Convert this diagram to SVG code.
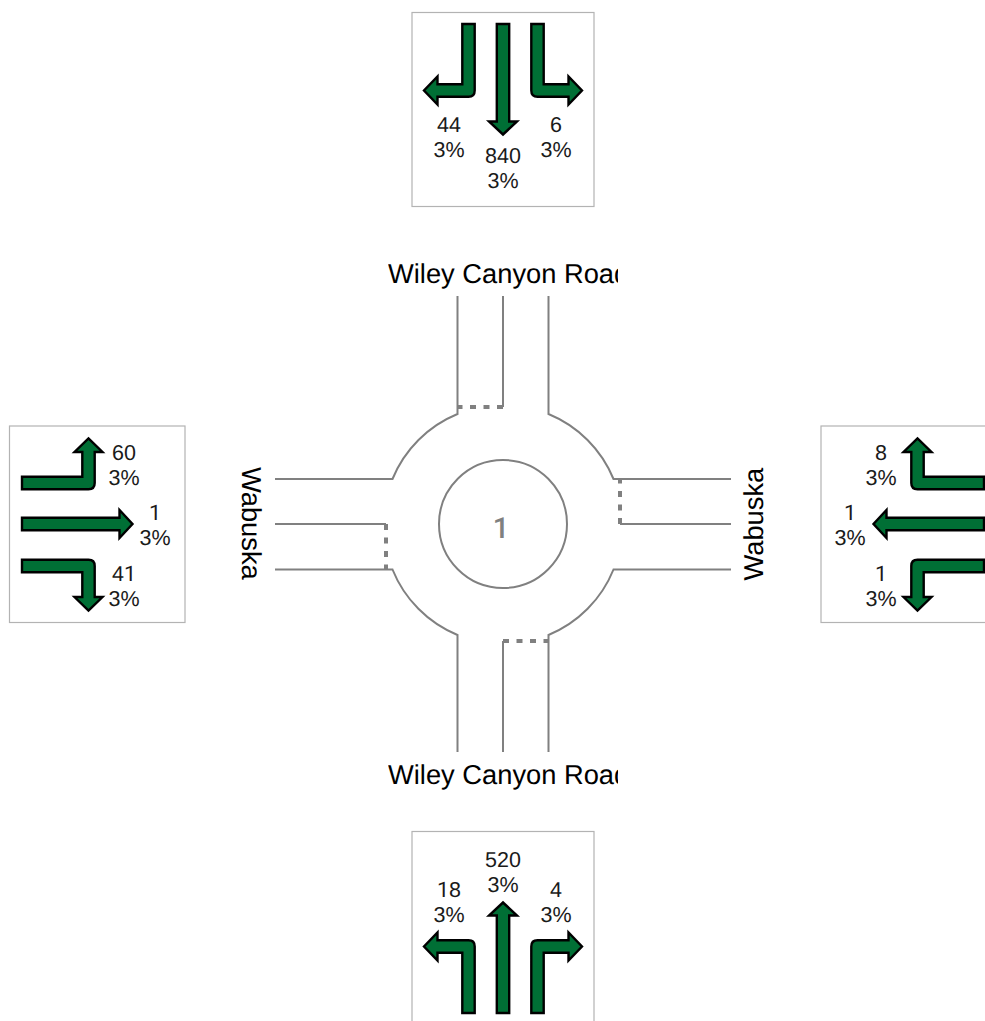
<svg xmlns="http://www.w3.org/2000/svg" width="985" height="1021" viewBox="0 0 985 1021">
<style>
.box{fill:#fff;stroke:#b3b3b3;stroke-width:1.2}
.arrow{fill:#006f35;stroke:#000;stroke-width:2.4;stroke-linejoin:miter;stroke-miterlimit:10}
.road{fill:none;stroke:#808080;stroke-width:2}
.stop{fill:none;stroke:#808080;stroke-width:4;stroke-dasharray:6 7.5}
text{font-family:"Liberation Sans",Arial,sans-serif;fill:#1a1a1a;text-rendering:geometricPrecision}
.n{font-size:21.5px;text-anchor:middle}
.l{font-size:27.3px;fill:#000}
.id{font-family:Roboto,"Liberation Sans",sans-serif;font-size:29px;font-weight:500;fill:#808080;text-anchor:middle}
.o{font-family:Roboto,"Liberation Sans",sans-serif}
</style>
<defs>
<path id="through" class="arrow" d="M-6.2,0H6.2V97.5H14L0,110.5L-14,97.5H-6.2Z"/>
<path id="turn" class="arrow" d="M-6.2,0H6.2V66.5Q6.2,72.7 0,72.7H-31V80.5L-44.5,66.5L-31,52.500V60.3H-6.2Z"/>
<clipPath id="c1"><rect x="388" y="250" width="230" height="50"/></clipPath>
<clipPath id="c2"><rect x="388" y="750" width="230" height="50"/></clipPath>
</defs>
<g id="connectors">
<path class="road" d="M457.5,296V414A119,119 0 0 0 392.5,479H275"/>
<path class="road" d="M503,296V407"/>
<path class="road" d="M548.5,296V414A119,119 0 0 1 613.5,479H731"/>
<path class="road" d="M275,524H386"/>
<path class="road" d="M620,524H731"/>
<path class="road" d="M275,569.5H392.5A119,119 0 0 0 457.5,635V752"/>
<path class="road" d="M731,569.5H613.5A119,119 0 0 1 548.5,635V752"/>
<path class="road" d="M503,641V752"/>
<path class="stop" d="M503,407H457.5"/>
<path class="stop" d="M620,524V479"/>
<path class="stop" d="M386,524V569.5"/>
<path class="stop" d="M503,641H548.5"/>
</g>
<g id="roundabout">
<circle class="road" cx="503" cy="524" r="64"/>
<text class="id" x="501" y="538">1</text>
</g>
<g id="label-north"><text class="l" x="388" y="283" clip-path="url(#c1)">Wiley Canyon Road</text></g>
<g id="label-south"><text class="l" x="388" y="784" clip-path="url(#c2)">Wiley Canyon Road</text></g>
<g id="label-west"><text class="l" transform="translate(241.500,467) rotate(90)">Wabuska</text></g>
<g id="label-east"><text class="l" transform="translate(763,580.500) rotate(-90)">Wabuska</text></g>
<g id="north-box">
<rect class="box" x="412" y="12.5" width="182" height="194"/>
<use href="#turn" transform="translate(468.5,24)"/>
<use href="#through" transform="translate(503,24)"/>
<use href="#turn" transform="translate(537.5,24) scale(-1,1)"/>
<text class="n" x="449" y="131.500">44</text><text class="n" x="449" y="156.500">3%</text>
<text class="n" x="503" y="162.500">840</text><text class="n" x="503" y="187.500">3%</text>
<text class="n" x="556" y="131.500">6</text><text class="n" x="556" y="156.500">3%</text>
</g>
<g id="south-box">
<rect class="box" x="412" y="831.5" width="182" height="194"/>
<use href="#turn" transform="translate(468.5,1013) scale(1,-1)"/>
<use href="#through" transform="translate(503,1013) scale(1,-1)"/>
<use href="#turn" transform="translate(537.5,1013) scale(-1,-1)"/>
<text class="n" x="449" y="896.500"><tspan class="o">1</tspan>8</text><text class="n" x="449" y="921.500">3%</text>
<text class="n" x="503" y="866.500">520</text><text class="n" x="503" y="891.500">3%</text>
<text class="n" x="556" y="896.500">4</text><text class="n" x="556" y="921.500">3%</text>
</g>
<g id="west-box">
<rect class="box" x="9.5" y="426" width="175.500" height="196.500"/>
<use href="#turn" transform="translate(22,483) rotate(-90) scale(-1,1)"/>
<use href="#through" transform="translate(22,524) rotate(-90)"/>
<use href="#turn" transform="translate(22,566) rotate(-90)"/>
<text class="n" x="124" y="459.500">60</text><text class="n" x="124" y="484.500">3%</text>
<text class="n o" x="155" y="519.500">1</text><text class="n" x="155" y="544.500">3%</text>
<text class="n" x="124" y="580.500">4<tspan class="o">1</tspan></text><text class="n" x="124" y="605.500">3%</text>
</g>
<g id="east-box">
<rect class="box" x="821" y="426" width="182" height="196.500"/>
<use href="#turn" transform="translate(984,483) rotate(90)"/>
<use href="#through" transform="translate(984,524) rotate(90)"/>
<use href="#turn" transform="translate(984,566) rotate(90) scale(-1,1)"/>
<text class="n" x="881" y="459.500">8</text><text class="n" x="881" y="484.500">3%</text>
<text class="n o" x="850" y="519.500">1</text><text class="n" x="850" y="544.500">3%</text>
<text class="n o" x="881" y="580.500">1</text><text class="n" x="881" y="605.500">3%</text>
</g>
</svg>
